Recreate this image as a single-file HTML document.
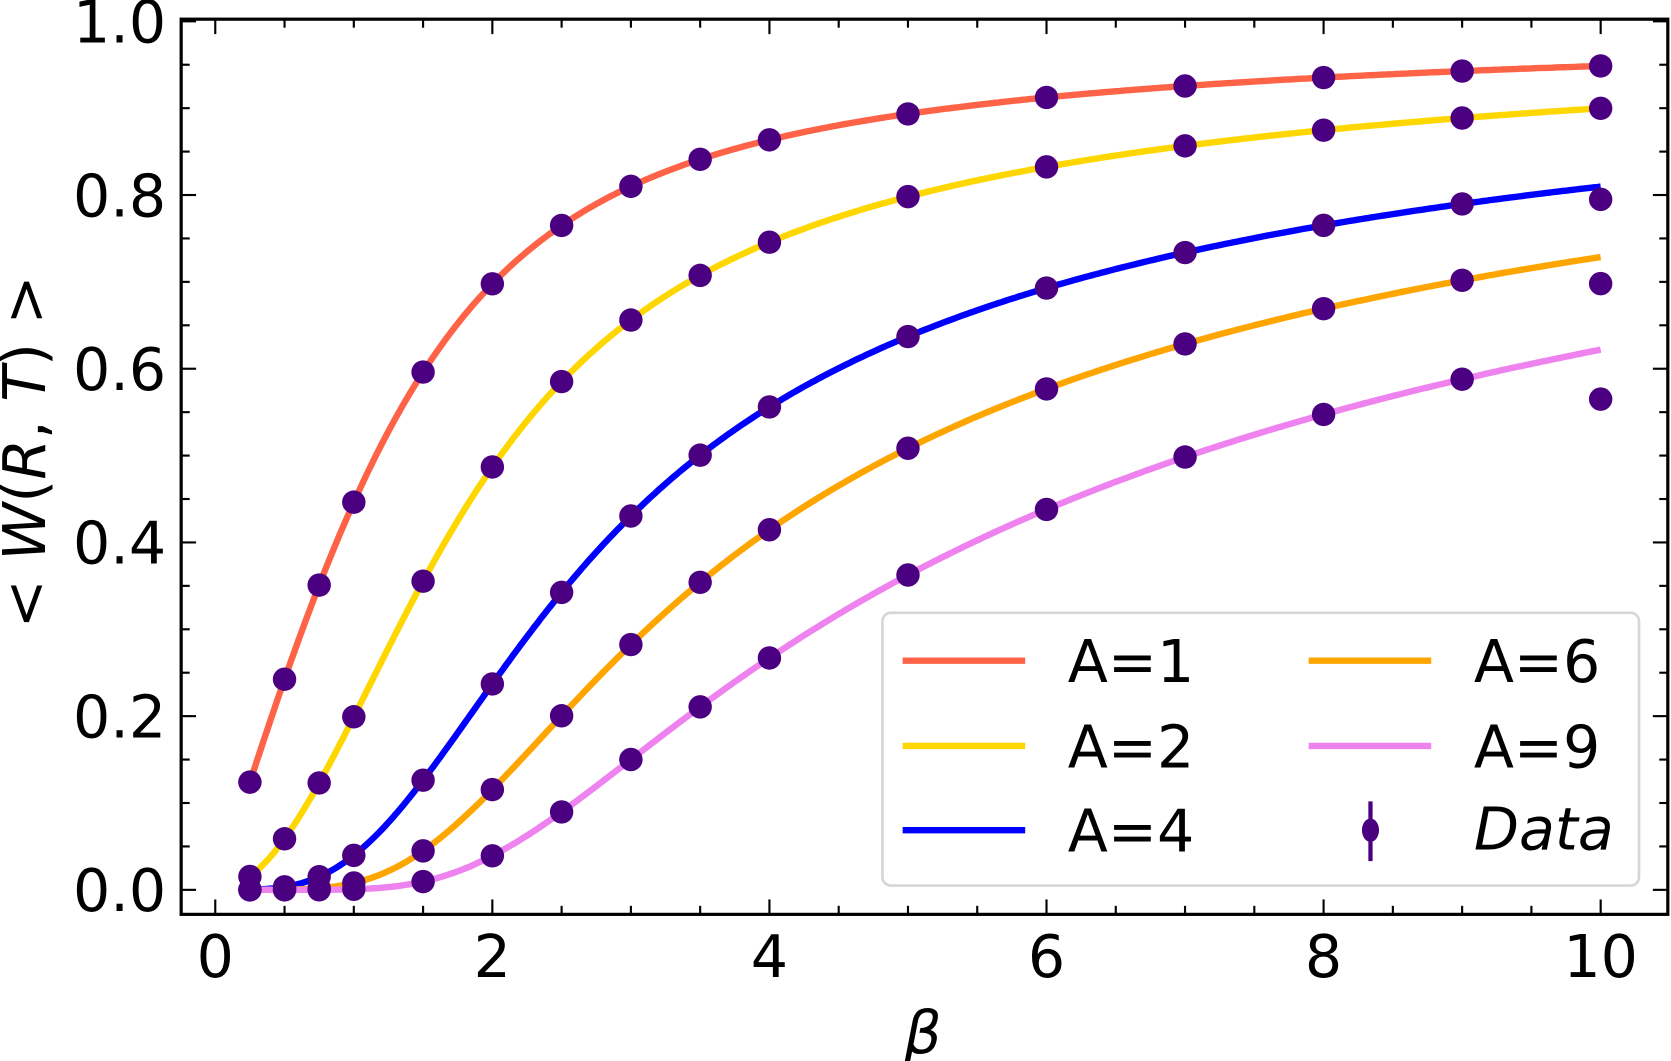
<!DOCTYPE html>
<html><head><style>html,body{margin:0;padding:0;background:#fff}svg{display:block}</style></head>
<body>
<svg id="s" width="1671" height="1061" viewBox="0 0 1568 995.6" preserveAspectRatio="none" xmlns="http://www.w3.org/2000/svg" font-family="DejaVu Sans, Liberation Sans, sans-serif">
<g id="curves" fill="none" stroke-width="6"></g>
<g id="pts" fill="#4b0082"></g>
<g id="ticks" stroke="#000" stroke-width="2"></g>
<rect x="170" y="18" width="1395" height="840" fill="none" stroke="#000" stroke-width="3"/>
<g font-size="55" text-anchor="middle" fill="#000">
<text x="202" y="917">0</text><text x="462" y="917">2</text><text x="722" y="917">4</text><text x="982" y="917">6</text><text x="1242" y="917">8</text><text x="1502" y="917">10</text>
</g>
<g font-size="55" text-anchor="end" fill="#000">
<text x="156" y="855">0.0</text><text x="156" y="692">0.2</text><text x="156" y="529">0.4</text><text x="156" y="366">0.6</text><text x="156" y="203">0.8</text><text x="156" y="40">1.0</text>
</g>
<text x="866" y="988" font-size="55" font-style="italic" text-anchor="middle">β</text>
<text transform="translate(42,424) rotate(-90)" font-size="55" text-anchor="middle">&lt; <tspan font-style="italic">W</tspan>(<tspan font-style="italic">R</tspan>, <tspan font-style="italic">T</tspan>) &gt;</text>
<rect x="828" y="575" width="710" height="256" rx="8" fill="#fff" fill-opacity="0.8" stroke="#d6d6d6" stroke-width="2.5"/>
<g stroke-width="6">
<line x1="847" y1="620" x2="962" y2="620" stroke="#ff6347"/>
<line x1="847" y1="700" x2="962" y2="700" stroke="#ffd700"/>
<line x1="847" y1="779" x2="962" y2="779" stroke="#0000ff"/>
<line x1="1228" y1="620" x2="1343" y2="620" stroke="#ffa500"/>
<line x1="1228" y1="700" x2="1343" y2="700" stroke="#ee82ee"/>
</g>
<line x1="1286" y1="752" x2="1286" y2="808" stroke="#4b0082" stroke-width="4"/>
<ellipse cx="1286" cy="779" rx="8" ry="11" fill="#4b0082"/>
<g font-size="55" fill="#000">
<text x="1002" y="640">A=1</text><text x="1002" y="720">A=2</text><text x="1002" y="799">A=4</text>
<text x="1383" y="640">A=6</text><text x="1383" y="720">A=9</text><text x="1383" y="797" font-style="italic">Data</text>
</g>
<script>
(function(){
const X=b=>202+130*b, Y=v=>835-815*v;
function I(n,x){let s=0,t;for(let k=0;k<60;k++){t=Math.pow(x/2,2*k+n);let f=1;for(let i=2;i<=k;i++)f*=i;let g=f;for(let i=k+1;i<=k+n;i++)g*=i;s+=t/(f*g);}return s;}
const r=b=>I(1,b)/I(0,b);
const ns="http://www.w3.org/2000/svg";
const A=[[1,"#ff6347"],[2,"#ffd700"],[4,"#0000ff"],[6,"#ffa500"],[9,"#ee82ee"]];
const cg=document.getElementById("curves"),pg=document.getElementById("pts"),tg=document.getElementById("ticks");
A.forEach(([a,c])=>{let d="";for(let i=0;i<=390;i++){let b=0.25+i*0.025;d+=(i?"L":"M")+X(b).toFixed(1)+","+Y(Math.pow(r(b),a)).toFixed(1);}let p=document.createElementNS(ns,"path");p.setAttribute("d",d);p.setAttribute("stroke",c);cg.appendChild(p);});
const bs=[0.25,0.5,0.75,1,1.5,2,2.5,3,3.5,4,5,6,7,8,9,10];
const ov={"4_10":0.795,"6_10":0.698,"9_10":0.565};
A.forEach(([a])=>bs.forEach(b=>{let v=ov[a+"_"+b]!==undefined?ov[a+"_"+b]:Math.pow(r(b),a);let e=document.createElementNS(ns,"circle");e.setAttribute("cx",X(b));e.setAttribute("cy",Y(v));e.setAttribute("r",11);pg.appendChild(e);}));
function L(x1,y1,x2,y2){let l=document.createElementNS(ns,"line");l.setAttribute("x1",x1);l.setAttribute("y1",y1);l.setAttribute("x2",x2);l.setAttribute("y2",y2);tg.appendChild(l);}
for(let i=-1;i<=26;i++){let b=i*0.5,x=X(b);if(x<171||x>1564)continue;let len=(i%4==0)?14:8;L(x,858,x,858-len);L(x,18,x,18+len);}
for(let i=-1;i<=21;i++){let v=i*0.05,y=Y(v);if(y<19||y>857)continue;let len=(i%4==0)?14:8;L(170,y,170+len,y);L(1565,y,1565-len,y);}
})();
</script>
</svg>
</body></html>
